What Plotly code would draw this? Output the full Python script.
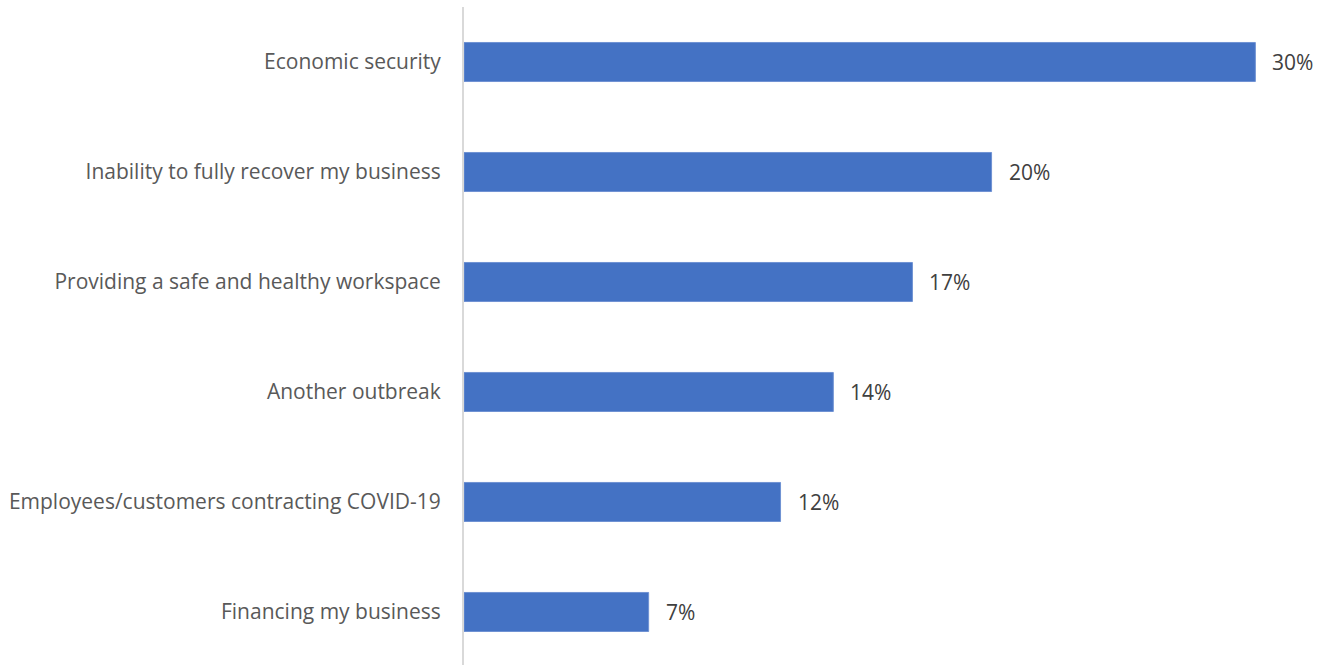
import plotly.graph_objects as go

categories = [
    "Financing my business",
    "Employees/customers contracting COVID-19",
    "Another outbreak",
    "Providing a safe and healthy workspace",
    "Inability to fully recover my business",
    "Economic security",
]
values = [7, 12, 14, 17, 20, 30]
value_labels = [f"{v}%" for v in values]

fig = go.Figure(
    go.Bar(
        x=values,
        y=categories,
        orientation="h",
        width=0.355,
        marker=dict(color="#4472C4", line=dict(color="#6f92d3", width=1)),
        hoverinfo="skip",
    )
)

for v, c, t in zip(values, categories, value_labels):
    fig.add_annotation(
        x=v, y=c, text=t, showarrow=False, xanchor="left", yanchor="middle",
        xshift=15, font=dict(family="Open Sans", size=21, color="#404040"),
    )

fig.update_layout(
    width=1330,
    height=665,
    margin=dict(l=464, r=0, t=7, b=0),
    paper_bgcolor="white",
    plot_bgcolor="white",
    showlegend=False,
    xaxis=dict(range=[0, 32.83], visible=False, fixedrange=True),
    yaxis=dict(
        type="category",
        categoryorder="array",
        categoryarray=categories,
        range=[-0.482, 5.5],
        showline=True,
        linecolor="#d9d9d9",
        linewidth=2,
        showgrid=False,
        ticks="",
        ticklabelstandoff=17,
        tickfont=dict(family="Open Sans", size=21, color="#595959"),
        fixedrange=True,
    ),
)

fig.write_html("out.html")
